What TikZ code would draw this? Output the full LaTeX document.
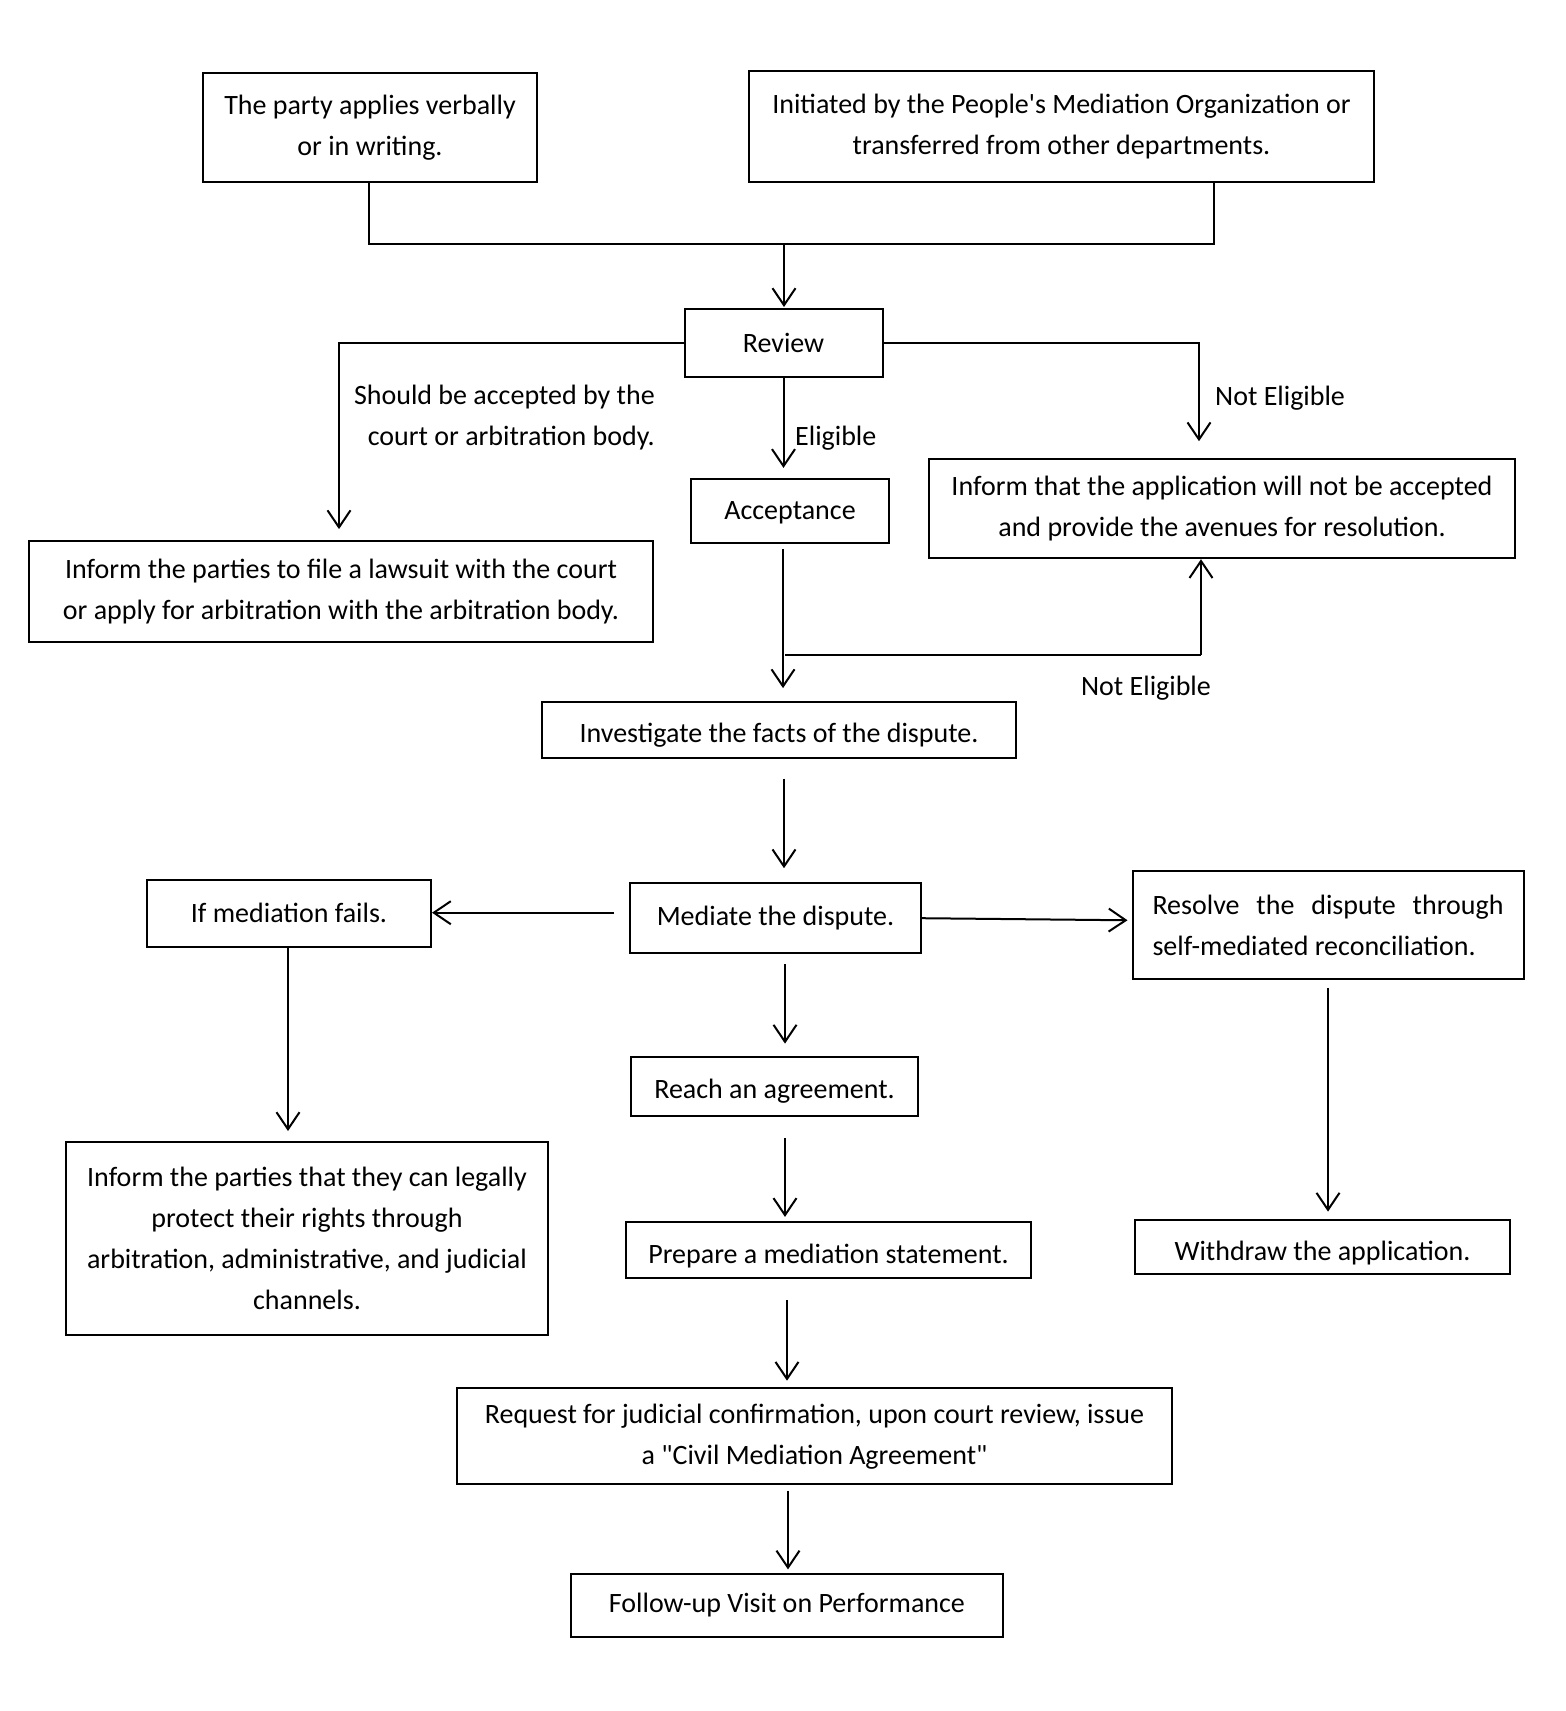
\documentclass[tikz,border=0pt]{standalone}
\usepackage{fontspec}
\setmainfont{Carlito}[Ligatures=TeXOff]
\usetikzlibrary{arrows.meta}
\newcommand{\lowr}[2]{\raisebox{-#1}[\height][\depth]{#2}}
\begin{document}
\begin{tikzpicture}[x=1pt,y=-1pt,
  every node/.style={font=\fontsize{28pt}{41pt}\selectfont, inner sep=0pt},
  box/.style={draw, line width=2pt, align=center},
  lbl/.style={align=center},
  arr/.style={line width=2pt, -{Straight Barb[length=17pt,width=23pt,line width=2pt]}},
  ln/.style={line width=2pt}]
\useasboundingbox (0,0) rectangle (1566,1711);
% nodes
\node[box, minimum width=334pt, minimum height=109pt] (A) at (370,127.6) {The party applies verbally\\or in writing.};
\node[box, minimum width=625pt, minimum height=111pt] (B) at (1061.5,126.5) {Initiated by the People's Mediation Organization or\\transferred from other departments.};
\node[box, minimum width=198pt, minimum height=68pt] (Rev) at (783.5,343) {Review};
\node[box, minimum width=624pt, minimum height=101pt] (Court) at (341,591.6) {Inform the parties to file a lawsuit with the court\\or apply for arbitration with the arbitration body.};
\node[box, minimum width=586pt, minimum height=99pt] (App) at (1222,508.7) {Inform that the application will not be accepted\\and provide the avenues for resolution.};
\node[box, minimum width=198pt, minimum height=64pt] (Acc) at (790,510.9) {\lowr{2pt}{Acceptance}};
\node[box, minimum width=474pt, minimum height=56pt] (Inv) at (779,730.1) {\lowr{5pt}{Investigate the facts of the dispute.}};
\node[box, minimum width=291pt, minimum height=70pt] (Med) at (775.5,918.2) {Mediate the dispute.};
\node[box, minimum width=284pt, minimum height=66.5pt] (Fail) at (289,913.3) {If mediation fails.};
\node[draw, line width=2pt, text width=351pt, align=justify, inner xsep=20pt, minimum height=108pt] (Res) at (1328,925.3) {Resolve the dispute through\linebreak self-mediated reconciliation.};
\node[box, minimum width=287pt, minimum height=59pt] (Reach) at (774.5,1086.1) {\lowr{5pt}{Reach an agreement.}};
\node[box, minimum width=405pt, minimum height=56pt] (Prep) at (828.5,1250.3) {\lowr{6pt}{Prepare a mediation statement.}};
\node[box, minimum width=715pt, minimum height=96pt] (Req) at (814.5,1436.2) {Request for judicial confirmation, upon court review, issue\\a "Civil Mediation Agreement"};
\node[box, minimum width=432pt, minimum height=63pt] (Fol) at (787,1605.2) {Follow-up Visit on Performance};
\node[box, minimum width=482pt, minimum height=193pt] (Leg) at (307,1238.3) {Inform the parties that they can legally\\protect their rights through\\arbitration, administrative, and judicial\\channels.};
\node[box, minimum width=375pt, minimum height=53.4pt] (Wd) at (1322.5,1247) {\lowr{6pt}{Withdraw the application.}};
% labels
\node[lbl, align=right, anchor=east] (lblL) at (655,418) {Should be accepted by the\\court or arbitration body.};
\node[lbl, anchor=west] (lblR) at (1215,398) {Not Eligible};
\node[lbl, anchor=west] (lblE) at (795,438) {Eligible};
\node[lbl] (lblN) at (1146,688) {Not Eligible};
% coordinates
\coordinate (jl) at (369,244.3);
\coordinate (jm) at (784,244.3);
\coordinate (jr) at (1214,244.3);
\coordinate (nr) at (1199,343);
\coordinate (ne1) at (785,655.4);
\coordinate (ne2) at (1201,655.4);
% connectors
\draw[ln] (jl |- A.south) -- (jl) -- (jr) -- (jr |- B.south);
\draw[arr, shorten >=1pt] (jm) -- (jm |- Rev.north);
\draw[arr, shorten >=11pt] (Rev.west) -| ([xshift=-2pt]Court.north);
\draw[arr, shorten >=17pt] (Rev.east) -- (nr) -- (nr |- App.north);
\draw[arr, shorten >=10pt] (Rev.south) -- (Rev.south |- Acc.north);
\draw[arr, shorten <=5pt, shorten >=13pt] ([xshift=-7pt]Acc.south) -- ([xshift=-7pt]Acc.south |- Inv.north);
\draw[ln] (ne1) -- (ne2);
\draw[arr] (ne2) -- (ne2 |- App.south);
\draw[arr, shorten <=19.6pt, shorten >=14pt] ([xshift=5pt]Inv.south) -- ([xshift=5pt]Inv.south |- Med.north);
\draw[arr, shorten <=15pt] ([yshift=5.5pt]Med.west) -- ([yshift=5.5pt]Med.west -| Fail.east);
\draw[arr, shorten >=4pt] (Med.east) -- ([yshift=5pt]Res.west);
\draw[arr, shorten <=10pt, shorten >=12pt] ([xshift=9.5pt]Med.south) -- ([xshift=9.5pt]Med.south |- Reach.north);
\draw[arr, shorten <=21.8pt, shorten >=4.4pt] ([xshift=10.5pt]Reach.south) -- ([xshift=10.5pt]Reach.south |- Prep.north);
\draw[arr, shorten <=20.7pt, shorten >=6.5pt] ([xshift=-41.5pt]Prep.south) -- ([xshift=-41.5pt]Prep.south |- Req.north);
\draw[arr, shorten <=5.4pt, shorten >=3.3pt] ([xshift=-26.5pt]Req.south) -- ([xshift=-26.5pt]Req.south |- Fol.north);
\draw[arr, shorten >=9.8pt] ([xshift=-1pt]Fail.south) -- ([xshift=-1pt]Fail.south |- Leg.north);
\draw[arr, shorten <=7.6pt, shorten >=7.7pt] (Res.south) -- (Res.south |- Wd.north);
\end{tikzpicture}
\end{document}
